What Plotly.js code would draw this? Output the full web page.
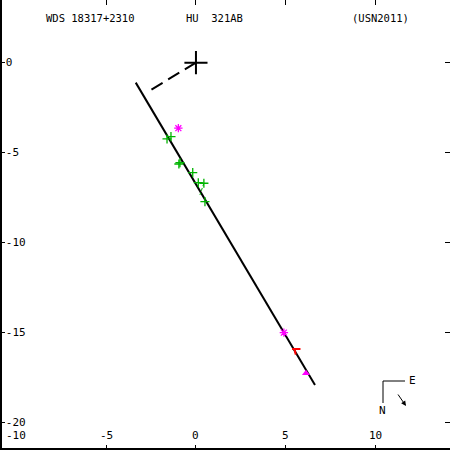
<!DOCTYPE html>
<html>
<head>
<meta charset="utf-8">
<script src="https://cdn.plot.ly/plotly-3.0.1.min.js"></script>
<style>html,body{margin:0;padding:0;background:#fff}#chart{width:450px;height:450px}</style>
</head>
<body>
<div id="chart"></div>
<script>
// Orbit (projected, nearly edge-on) and line of nodes
var orbitX = [-3.35, 6.62];
var orbitY = [-1.11, -17.91];
var nodeX = [0, -2.60];
var nodeY = [0, -1.57];
// Primary
var primaryX = [0];
var primaryY = [0];
// Observations
var greenX = [-1.61, -1.39, -0.89, -0.95, -0.18, 0.13, 0.44, 0.50];
var greenY = [-4.24, -4.11, -5.56, -5.63, -6.11, -6.67, -6.70, -7.72];
var greenOCx = [0.44, 0.22];
var greenOCy = [-6.70, -7.35];
var magentaX = [-0.98, 4.89];
var magentaY = [-3.64, -15.00];
var redX = [5.58];
var redY = [-15.91];
var redOCx = [5.48, 5.55];
var redOCy = [-15.91, -16.22];
var triX = [6.12];
var triY = [-17.26];
// Ticks
var xTicks = [-10, -5, 0, 5, 10];
var xTickLabels = ["-10", "-5", "0", "5", "10"];
var yTicks = [0, -5, -10, -15, -20];
var yTickLabels = ["0", "-5", "-10", "-15", "-20"];

var mono = "DejaVu Sans Mono, Liberation Mono, monospace";

var traces = [
  {x: orbitX, y: orbitY, mode: "lines", line: {color: "#000", width: 2}, hoverinfo: "skip"},
  {x: nodeX, y: nodeY, mode: "lines", line: {color: "#000", width: 2, dash: "13px,6.5px"}, hoverinfo: "skip"},
  {x: greenOCx, y: greenOCy, mode: "lines", line: {color: "#00b400", width: 1, dash: "3px,2px"}},
  {x: redOCx, y: redOCy, mode: "lines", line: {color: "#ff0000", width: 2}},
  {x: greenX, y: greenY, mode: "markers", marker: {symbol: "cross-thin-open", size: 6.5, color: "#00b400", line: {color: "#00b400", width: 1.3}}},
  {x: magentaX, y: magentaY, mode: "markers", marker: {symbol: "asterisk-open", size: 7, color: "#ff00ff", line: {color: "#ff00ff", width: 1.3}}},
  {x: redX, y: redY, mode: "markers", marker: {symbol: "line-ew-open", size: 6, color: "#ff0000", line: {color: "#ff0000", width: 2}}},
  {x: triX, y: triY, mode: "markers", marker: {symbol: "triangle-up", size: 7, color: "#ff00ff"}},
  {x: primaryX, y: primaryY, mode: "markers", marker: {symbol: "cross-thin-open", size: 16.5, color: "#000", line: {color: "#000", width: 2}}}
];

function px(v) { return v / 450; }
function py(v) { return 1 - v / 450; }

var annotations = [
  {xref: "paper", yref: "paper", x: px(44), y: py(18), xanchor: "left", yanchor: "middle", showarrow: false, text: "WDS 18317+2310", font: {family: mono, size: 10.5, color: "#000"}},
  {xref: "paper", yref: "paper", x: px(184), y: py(18), xanchor: "left", yanchor: "middle", showarrow: false, text: "HU\u00a0\u00a0321AB", font: {family: mono, size: 10.5, color: "#000"}},
  {xref: "paper", yref: "paper", x: px(350), y: py(18), xanchor: "left", yanchor: "middle", showarrow: false, text: "(USN2011)", font: {family: mono, size: 10.5, color: "#000"}},
  {xref: "paper", yref: "paper", x: px(412), y: py(380), xanchor: "center", yanchor: "middle", showarrow: false, text: "E", font: {family: mono, size: 11, color: "#000"}},
  {xref: "paper", yref: "paper", x: px(382), y: py(410), xanchor: "center", yanchor: "middle", showarrow: false, text: "N", font: {family: mono, size: 11, color: "#000"}},
  {xref: "paper", yref: "paper", x: px(406), y: py(406), ax: -9, ay: -13, showarrow: true, text: "", arrowhead: 2, arrowsize: 1, arrowwidth: 1, arrowcolor: "#000"}
];
// x tick labels drawn inside the frame, just above the bottom axis
for (var i = 0; i < xTicks.length; i++) {
  annotations.push({xref: "x", yref: "paper", x: xTicks[i], y: py(435), xanchor: "center", yanchor: "middle",
    showarrow: false, text: xTickLabels[i], font: {family: mono, size: 11, color: "#000"}});
}

var layout = {
  width: 450, height: 450,
  margin: {l: 0, r: 0, t: 0, b: 0, pad: 0},
  paper_bgcolor: "#fff", plot_bgcolor: "#fff",
  showlegend: false,
  xaxis: {
    range: [-10.90, 14.13], tickvals: xTicks, ticktext: xTickLabels,
    ticks: "inside", ticklen: 5, tickwidth: 1, tickcolor: "#000",
    mirror: "ticks", showline: false, showgrid: false, zeroline: false,
    showticklabels: false
  },
  yaxis: {
    range: [-21.52, 3.48], tickvals: yTicks, ticktext: yTickLabels,
    ticks: "inside", ticklen: 5, tickwidth: 1, tickcolor: "#000",
    mirror: "ticks", showline: false, showgrid: false, zeroline: false,
    ticklabelposition: "inside", tickfont: {family: mono, size: 11, color: "#000"}
  },
  shapes: [
    {type: "line", xref: "paper", yref: "paper", x0: 0, x1: 0, y0: 0, y1: 1, line: {color: "#000", width: 4}},
    {type: "line", xref: "paper", yref: "paper", x0: 0, x1: 1, y0: 0, y1: 0, line: {color: "#000", width: 4}},
    {type: "line", xref: "paper", yref: "paper", x0: px(383), x1: px(405), y0: py(381), y1: py(381), line: {color: "#000", width: 1}},
    {type: "line", xref: "paper", yref: "paper", x0: px(383), x1: px(383), y0: py(381), y1: py(403), line: {color: "#000", width: 1}}
  ],
  annotations: annotations
};

Plotly.newPlot("chart", traces, layout, {staticPlot: true});
</script>
</body>
</html>
